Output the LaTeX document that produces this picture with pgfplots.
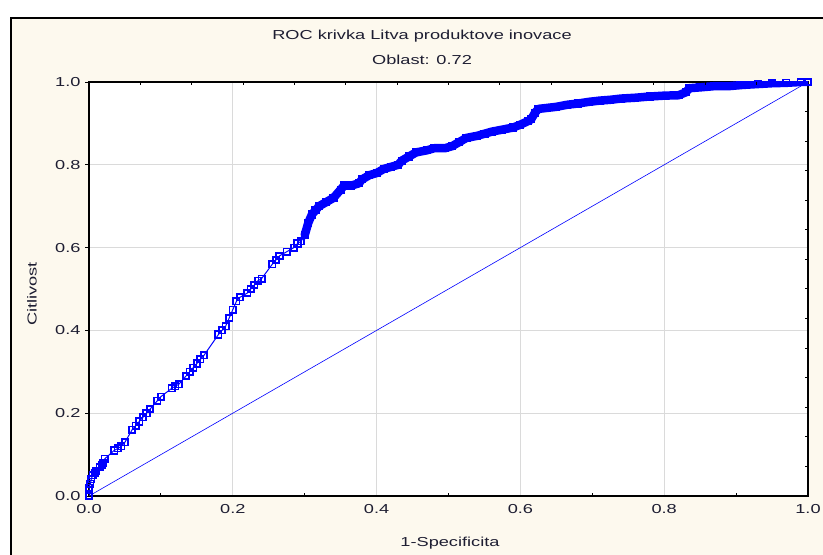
\documentclass[border=0pt]{standalone}
\usepackage{fontspec}
\setmainfont{Liberation Sans}[FakeStretch=1.4]
\usepackage{pgfplots}
\pgfplotsset{compat=1.18}
\definecolor{cream}{RGB}{253,249,238}
\definecolor{rocblue}{RGB}{0,0,255}
\definecolor{gridgray}{RGB}{218,218,218}
\definecolor{txt}{RGB}{30,30,50}

\pgfplotstableread{
x y
0 0
0 0.02
0.002 0.03
0.003 0.04
0.005 0.05
0.008 0.055
0.01 0.06
0.015 0.07
0.018 0.075
0.02 0.08
0.022 0.09
0.035 0.11
0.04 0.115
0.045 0.12
0.05 0.13
0.06 0.16
0.065 0.17
0.07 0.18
0.075 0.19
0.08 0.20
0.085 0.21
0.095 0.23
0.1 0.24
0.115 0.26
0.12 0.265
0.125 0.27
0.135 0.29
0.14 0.30
0.145 0.31
0.15 0.32
0.155 0.33
0.16 0.34
0.18 0.39
0.185 0.40
0.19 0.41
0.195 0.43
0.2 0.45
0.205 0.47
0.21 0.48
0.22 0.49
0.225 0.50
0.23 0.51
0.235 0.52
0.24 0.525
0.255 0.56
0.26 0.57
0.265 0.58
0.275 0.59
0.285 0.60
0.29 0.61
0.295 0.615
0.30 0.63
0.305 0.66
0.31 0.68
0.315 0.69
0.32 0.70
0.33 0.71
0.34 0.72
0.35 0.74
0.355 0.75
0.365 0.75
0.375 0.755
0.38 0.765
0.39 0.775
0.40 0.78
0.41 0.79
0.42 0.795
0.43 0.80
0.435 0.81
0.445 0.82
0.455 0.83
0.47 0.835
0.48 0.84
0.495 0.84
0.505 0.845
0.515 0.855
0.525 0.865
0.54 0.87
0.55 0.875
0.56 0.88
0.575 0.885
0.59 0.89
0.60 0.897
0.61 0.905
0.615 0.91
0.62 0.925
0.625 0.935
0.635 0.937
0.65 0.94
0.665 0.945
0.68 0.948
0.695 0.952
0.71 0.955
0.725 0.957
0.74 0.96
0.76 0.962
0.78 0.965
0.80 0.967
0.82 0.968
0.83 0.975
0.835 0.985
0.85 0.987
0.87 0.99
0.89 0.99
0.91 0.993
0.93 0.995
0.95 0.997
0.97 0.998
0.99 1.0
1 1
}\roc

\pgfplotstableread{
x y
0.30 0.63
0.305 0.66
0.31 0.68
0.315 0.69
0.32 0.70
0.33 0.71
0.34 0.72
0.35 0.74
0.355 0.75
0.365 0.75
0.375 0.755
0.38 0.765
0.39 0.775
0.40 0.78
0.41 0.79
0.42 0.795
0.43 0.80
0.435 0.81
0.445 0.82
0.455 0.83
0.47 0.835
0.48 0.84
0.495 0.84
0.505 0.845
0.515 0.855
0.525 0.865
0.54 0.87
0.55 0.875
0.56 0.88
0.575 0.885
0.59 0.89
0.60 0.897
0.61 0.905
0.615 0.91
0.62 0.925
0.625 0.935
0.635 0.937
0.65 0.94
0.665 0.945
0.68 0.948
0.695 0.952
0.71 0.955
0.725 0.957
0.74 0.96
0.76 0.962
0.78 0.965
0.80 0.967
0.82 0.968
0.83 0.975
0.835 0.985
0.85 0.987
0.87 0.99
0.89 0.99
0.91 0.993
0.93 0.995
0.95 0.997
0.97 0.998
0.99 1.0
1 1
}\rocupper

\begin{document}
\fontsize{13bp}{15bp}\selectfont
\begin{tikzpicture}
\useasboundingbox (0,0) rectangle (823bp,555bp);
\fill[white] (0,0) rectangle (823bp,555bp);
\fill[cream] (11bp,0) rectangle (823bp,537bp);
\draw[black, line width=1.3bp] (11bp,0) -- (11bp,537bp) -- (823bp,537bp);
\node[txt] at (422bp,519bp) {ROC krivka Litva produktove inovace};
\node[txt] at (422bp,495bp) {Oblast: 0.72};
\node[txt] at (450bp,12bp) {1-Specificita};
\node[txt, rotate=90] at (32bp,261bp) {Citlivost};

\begin{axis}[
  at={(89bp,59bp)}, anchor=south west,
  scale only axis, width=719bp, height=414bp,
  xmin=0, xmax=1, ymin=0, ymax=1,
  axis background/.style={fill=white},
  xtick={0,0.2,0.4,0.6,0.8,1},
  ytick={0,0.2,0.4,0.6,0.8,1},
  xticklabels={0.0,0.2,0.4,0.6,0.8,1.0},
  yticklabels={0.0,0.2,0.4,0.6,0.8,1.0},
  grid=major,
  major grid style={gridgray, line width=0.9bp},
  xtick pos=bottom, ytick pos=left,
  tick align=outside,
  major tick length=4bp,
  x tick style={draw=none},
  y tick style={black, line width=0.9bp},
  axis line style={black, line width=1.2bp},
  ticklabel style={font=\fontsize{13bp}{15bp}\selectfont, text=txt},
  /pgf/number format/assume math mode=true,
]
\addplot[rocblue, line width=0.6bp] coordinates {(0,0) (1,1)};
\addplot[rocblue, line width=8.5bp, line join=round, line cap=round] table[x=x,y=y] {\rocupper};
\addplot[rocblue, line width=1bp, mark=square, mark size=3.2bp,
  mark options={line width=1.7bp, solid}] table[x=x,y=y] {\roc};
\end{axis}

\begin{axis}[
  at={(89bp,59bp)}, anchor=south west,
  scale only axis, width=719bp, height=414bp,
  xmin=0, xmax=1, ymin=0, ymax=1,
  axis line style={draw=none},
  xtick={0.1,0.3,0.5,0.7,0.9}, ytick=\empty,
  xticklabels={}, xtick pos=bottom,
  tick align=inside, major tick length=3bp,
  tick style={black, line width=1bp},
]
\end{axis}

\begin{axis}[
  at={(89bp,59bp)}, anchor=south west,
  scale only axis, width=719bp, height=414bp,
  xmin=0, xmax=1, ymin=0, ymax=1,
  axis line style={draw=none},
  xtick={0.0714,0.1429,0.2143,0.2857,0.3571,0.4286,0.5,0.5714,0.6429,0.7143,0.7857,0.8571,0.9286},
  ytick={0.0714,0.1429,0.2143,0.2857,0.3571,0.4286,0.5,0.5714,0.6429,0.7143,0.7857,0.8571,0.9286},
  xticklabels={}, yticklabels={},
  xtick pos=top, ytick pos=right,
  tick align=inside, major tick length=3bp,
  tick style={black, line width=1bp},
]
\end{axis}
\end{tikzpicture}
\end{document}
